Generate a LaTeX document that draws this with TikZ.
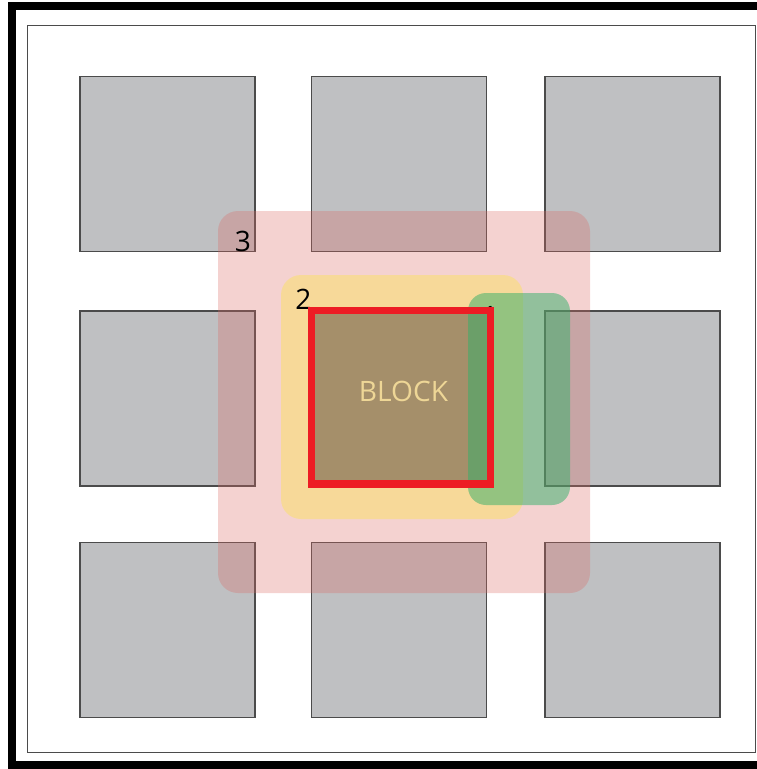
\documentclass[tikz,border=0pt]{standalone}
\usepackage{fontspec}
\setmainfont{Open Sans}
\definecolor{cellgray}{RGB}{191,192,194}
\definecolor{celledge}{RGB}{75,75,75}
\definecolor{zonepink}{RGB}{218,105,100}
\definecolor{zoneyellow}{RGB}{250,222,118}
\definecolor{zonegreen}{RGB}{50,175,105}
\definecolor{blockfill}{RGB}{165,143,106}
\definecolor{blocktext}{RGB}{238,214,150}
\definecolor{blockred}{RGB}{237,28,36}
\tikzset{
  cell/.style={draw=celledge, fill=cellgray, line width=1.1pt, minimum size=3.5cm, inner sep=0pt},
  zone/.style={rounded corners=0.4cm},
  digit/.style={font=\fontsize{16}{16}\selectfont, inner sep=0pt},
}
\begin{document}
\begin{tikzpicture}[x=0.02cm, y=-0.02cm]
\useasboundingbox (0,0) rectangle (757,769);
% frames
\draw[line width=4.55pt] (12,6) rectangle (800,765);
\draw[celledge, line width=1pt] (27.5,25.5) rectangle (755.5,752.5);
% grid
\foreach \r/\y in {1/164,2/398.25,3/630}
  \foreach \c/\x in {1/167.5,2/399,3/632.5}
    \node[cell] (c\r\c) at (\x,\y) {};
% zones
\fill[zone, zonepink, opacity=0.3] (218,211) rectangle (590,593);
\fill[zone, zoneyellow, opacity=0.6] (281,275) rectangle (523,519);
\node[fill=blockfill, minimum width=3.56cm, minimum height=3.45cm, inner sep=0pt] (block) at (401,397.25) {};
\node[font=\fontsize{16}{16}\selectfont, text=blocktext, inner sep=0pt] (blocklabel) at (403.5,391) {BLOCK};
\fill[zone, rounded corners=0.36cm, zonegreen, opacity=0.5] (468,293) rectangle (570,505);
% labels
\node[digit] (l3) at (243,241.5) {3};
\node[digit] (l2) at (303.5,299) {2};
\node[digit] (l1) at (490,316) {1};
\draw[blockred, line width=4.3pt] (block.north west) rectangle (block.south east);
\end{tikzpicture}
\end{document}
